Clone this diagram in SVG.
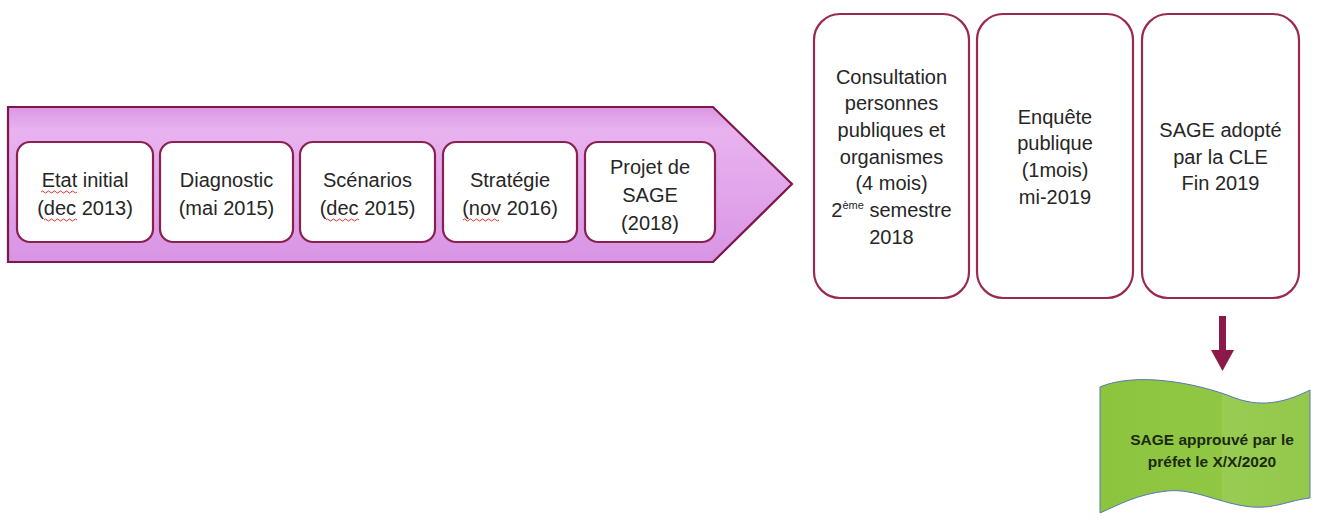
<svg xmlns="http://www.w3.org/2000/svg" width="1318" height="529" viewBox="0 0 1318 529">
<defs>
<linearGradient id="gArrow" x1="0" y1="0" x2="0" y2="1">
<stop offset="0" stop-color="#da98e4"/>
<stop offset="0.15" stop-color="#e8b2ef"/>
<stop offset="0.6" stop-color="#e0a4ea"/>
<stop offset="1" stop-color="#d894e3"/>
</linearGradient>
<linearGradient id="gGreen" x1="0" y1="0" x2="1" y2="0">
<stop offset="0" stop-color="#8cc43e"/>
<stop offset="0.58" stop-color="#90c845"/>
<stop offset="0.58" stop-color="#98cc52"/>
<stop offset="1" stop-color="#94c84c"/>
</linearGradient>
</defs>
<style>
.step{fill:#ffffff;stroke:#8a2050;stroke-width:2.2}
.tall{fill:#ffffff;stroke:#9a2a4c;stroke-width:2.2}
.t{font-family:"Liberation Sans",Arial,sans-serif;font-size:20px;fill:#262626;text-anchor:middle}
.g{font-family:"Liberation Sans",Arial,sans-serif;font-size:15.5px;font-weight:bold;fill:#1c2a12;text-anchor:middle}
.sp{fill:none;stroke:#e03030;stroke-width:1}
</style>
<rect width="1318" height="529" fill="#ffffff"/>
<g id="timeline-arrow">
<polygon points="8,107 713,107 792,184 713,262 8,262" fill="url(#gArrow)" stroke="#7b1848" stroke-width="2.2"/>
</g>
<g id="node-etat">
<rect class="step" x="17" y="142" width="136" height="100" rx="13"/>
<text class="t" x="85" y="187">Etat initial</text>
<text class="t" x="85" y="215">(dec 2013)</text>
<path class="sp" d="M41,192 q1.5,-2 3,0 t3,0 t3,0 t3,0 t3,0 t3,0 t3,0 t3,0 t3,0 t3,0 t3,0 t3,0"/>
<path class="sp" d="M44,220 q1.5,-2 3,0 t3,0 t3,0 t3,0 t3,0 t3,0 t3,0 t3,0 t3,0 t3,0 t3,0"/>
</g>
<g id="node-diagnostic">
<rect class="step" x="160" y="142" width="133" height="100" rx="13"/>
<text class="t" x="226.5" y="187">Diagnostic</text>
<text class="t" x="226.5" y="215">(mai 2015)</text>
</g>
<g id="node-scenarios">
<rect class="step" x="300" y="142" width="135" height="100" rx="13"/>
<text class="t" x="367.5" y="187">Scénarios</text>
<text class="t" x="367.5" y="215">(dec 2015)</text>
<path class="sp" d="M326,220 q1.5,-2 3,0 t3,0 t3,0 t3,0 t3,0 t3,0 t3,0 t3,0 t3,0 t3,0 t3,0"/>
</g>
<g id="node-strategie">
<rect class="step" x="443" y="142" width="134" height="100" rx="13"/>
<text class="t" x="510" y="187">Stratégie</text>
<text class="t" x="510" y="215">(nov 2016)</text>
<path class="sp" d="M463,220 q1.5,-2 3,0 t3,0 t3,0 t3,0 t3,0 t3,0 t3,0 t3,0 t3,0 t3,0 t3,0 t3,0"/>
</g>
<g id="node-projet">
<rect class="step" x="585" y="142" width="130" height="100" rx="13"/>
<text class="t" x="650" y="174">Projet de</text>
<text class="t" x="650" y="202">SAGE</text>
<text class="t" x="650" y="230">(2018)</text>
</g>
<g id="node-consultation">
<rect class="tall" x="814" y="14" width="155" height="284" rx="26"/>
<text class="t" x="891.5" y="84">Consultation</text>
<text class="t" x="891.5" y="110">personnes</text>
<text class="t" x="891.5" y="137">publiques et</text>
<text class="t" x="891.5" y="164">organismes</text>
<text class="t" x="891.5" y="190">(4 mois)</text>
<text class="t" x="891.5" y="217">2<tspan font-size="11" dy="-8">ème</tspan><tspan dy="8"> semestre</tspan></text>
<text class="t" x="891.5" y="244">2018</text>
</g>
<g id="node-enquete">
<rect class="tall" x="977" y="14" width="156" height="284" rx="26"/>
<text class="t" x="1055" y="124">Enquête</text>
<text class="t" x="1055" y="150">publique</text>
<text class="t" x="1055" y="177">(1mois)</text>
<text class="t" x="1055" y="204">mi-2019</text>
</g>
<g id="node-adopte">
<rect class="tall" x="1142" y="14" width="157" height="284" rx="26"/>
<text class="t" x="1220.5" y="137">SAGE adopté</text>
<text class="t" x="1220.5" y="164">par la CLE</text>
<text class="t" x="1220.5" y="190">Fin 2019</text>
</g>
<g id="connectors">
<rect x="1219" y="316" width="7" height="35" fill="#8b1a48"/>
<polygon points="1211,350 1234,350 1222.5,371" fill="#8b1a48"/>
</g>
<g id="node-approuve">
<path d="M1100,387 C1135,372 1195,382 1235,398 C1265,409 1290,400 1310,390 L1310,498 C1290,500 1275,509 1252,507 C1220,504 1195,488 1167,491 C1138,494 1118,505 1100,513 Z" fill="url(#gGreen)" stroke="#5a78b8" stroke-width="1"/>
<text class="g" x="1212" y="445">SAGE approuvé par le</text>
<text class="g" x="1212" y="467">préfet le X/X/2020</text>
</g>
</svg>
